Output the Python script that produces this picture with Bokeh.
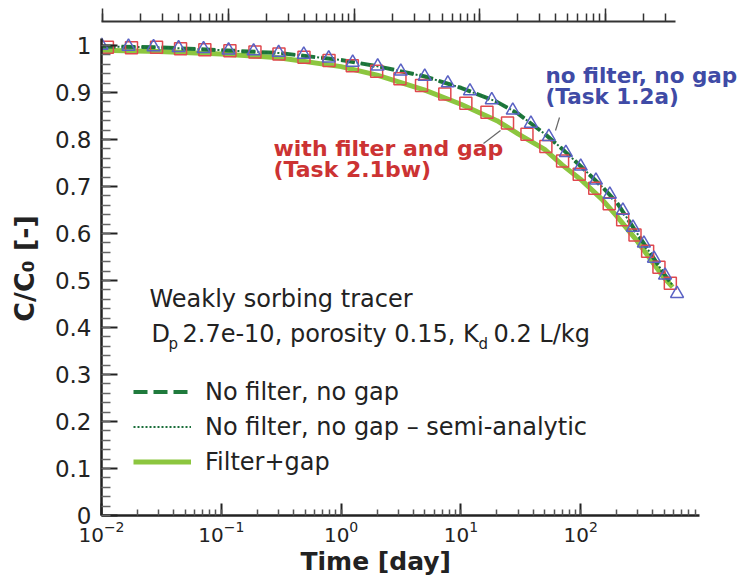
import math
from bokeh.plotting import figure
from bokeh.models import (Range1d, LogAxis, LogTicker, SingleIntervalTicker,
                          CustomJSTickFormatter, Label, Legend, LegendItem, Arrow,
                          LogScale, Title)
from bokeh.embed import file_html
from bokeh.resources import INLINE

# ---------------- data ----------------
# Task 1.2a markers (no filter, no gap) - open triangles
tri_time = [0.0100, 0.0168, 0.0272, 0.0440, 0.0711, 0.115, 0.186, 0.301, 0.488,
            0.788, 1.25, 2.02, 3.15, 4.99, 7.78, 11.9, 18.1, 27.1, 38.4, 54.2,
            75.2, 100, 134, 175, 225, 273, 337, 409, 506, 637]
tri_conc = [1.000, 0.998, 0.997, 0.995, 0.993, 0.990, 0.988, 0.985, 0.981,
            0.973, 0.964, 0.956, 0.945, 0.934, 0.920, 0.903, 0.884, 0.862, 0.834, 0.806,
            0.772, 0.743, 0.713, 0.683, 0.649, 0.613, 0.579, 0.547, 0.511, 0.472]

# Task 2.1bw markers (with filter and gap) - open squares
sq_time = [0.0112, 0.0178, 0.0288, 0.0457, 0.0729, 0.118, 0.191, 0.303, 0.490,
           0.793, 1.24, 1.98, 3.10, 4.69, 7.34, 11.0, 16.5, 24.5, 35.6, 51.2,
           70.6, 97.2, 131, 173, 224, 284, 362, 450, 560]
sq_conc = [0.996, 0.995, 0.996, 0.993, 0.991, 0.989, 0.986, 0.982, 0.975,
           0.968, 0.957, 0.945, 0.929, 0.915, 0.897, 0.877, 0.858, 0.835, 0.811, 0.785,
           0.754, 0.726, 0.696, 0.663, 0.629, 0.597, 0.562, 0.528, 0.494]

# Curves
line_time = [0.01, 0.03, 0.1, 0.3, 1, 2, 5, 10, 20, 30, 50, 70, 100, 150, 200,
             300, 400, 500, 585]
nofilter_conc = [0.998, 0.996, 0.990, 0.984, 0.969, 0.956, 0.934, 0.910, 0.880,
                 0.855, 0.812, 0.780, 0.743, 0.700, 0.666, 0.598, 0.550, 0.513, 0.490]
semi_conc = [0.998, 0.996, 0.990, 0.984, 0.969, 0.956, 0.934, 0.910, 0.880,
             0.855, 0.812, 0.780, 0.743, 0.700, 0.666, 0.598, 0.550, 0.513, 0.490]
filter_conc = [0.990, 0.987, 0.982, 0.974, 0.955, 0.937, 0.905, 0.875, 0.840,
               0.812, 0.779, 0.746, 0.715, 0.673, 0.637, 0.582, 0.538, 0.505, 0.486]

legend_labels = ["No filter, no gap", "No filter, no gap \u2013 semi-analytic", "Filter+gap"]
x_title = "Time [day]"
y_title = "C/C\u2080 [-]"

# ---------------- styles ----------------
FONT = "DejaVu Sans"
DARK_GREEN = "#1f7a3c"
LIGHT_GREEN = "#8cc63f"
BLUE = "#5a62c4"
RED = "#e0484e"
AXIS = "#222222"

# frame: x from 101 px to 746 px, 119.8 px per decade
x_end = 10 ** (-2 + 645 / 119.8)
p = figure(width=746, height=577, x_axis_type="log",
           x_range=Range1d(0.01, x_end), y_range=Range1d(0, 1.051),
           output_backend="svg", toolbar_location=None,
           min_border_left=101, min_border_right=0,
           min_border_top=21, min_border_bottom=62)
p.outline_line_color = None
p.xgrid.visible = False
p.ygrid.visible = False
p.background_fill_color = "white"
p.border_fill_color = "white"

# bottom axis
xa = p.xaxis[0]
xa.ticker = LogTicker(num_minor_ticks=10, desired_num_ticks=6)
xa.bounds = (0.01, 980)
xa.axis_line_width = 2.5
xa.axis_line_color = AXIS
xa.major_tick_in = 12
xa.major_tick_out = 0
xa.minor_tick_in = 6
xa.minor_tick_out = 0
xa.major_tick_line_width = 2
xa.minor_tick_line_width = 1.5
xa.major_tick_line_color = AXIS
xa.minor_tick_line_color = "#555555"
xa.major_label_text_font = FONT
xa.major_label_text_font_size = "20px"
xa.major_label_text_color = AXIS
xa.major_label_standoff = 5

# left axis
ya = p.yaxis[0]
ya.ticker = SingleIntervalTicker(interval=0.1, num_minor_ticks=5)
ya.formatter = CustomJSTickFormatter(code="return (Math.round(tick*10)/10).toString();")
ya.bounds = (0, 1.015)
ya.axis_line_width = 2.5
ya.axis_line_color = AXIS
ya.major_tick_in = 16
ya.major_tick_out = 0
ya.minor_tick_in = 9
ya.minor_tick_out = 0
ya.major_tick_line_width = 2
ya.minor_tick_line_width = 1.5
ya.major_tick_line_color = AXIS
ya.minor_tick_line_color = "#666666"
ya.major_label_text_font = FONT
ya.major_label_text_font_size = "23px"
ya.major_label_text_color = AXIS
ya.major_label_standoff = 10
ya.axis_label = y_title
ya.axis_label_text_font = FONT
ya.axis_label_text_font_size = "27px"
ya.axis_label_text_font_style = "bold"
ya.axis_label_text_color = AXIS
ya.axis_label_standoff = 12

# top decorative log axis (different spacing, as in the original)
top_lo = 10 ** -2.0103
top_hi = 10 ** (-2.0103 + 645 / 125.7)
p.extra_x_ranges = {"top": Range1d(top_lo, top_hi)}
p.extra_x_scales = {"top": LogScale()}
ta = LogAxis(x_range_name="top", ticker=LogTicker(num_minor_ticks=10, desired_num_ticks=6),
             formatter=CustomJSTickFormatter(code="return '';"),
             bounds=(top_lo, 10 ** 2.556))
ta.axis_line_width = 2
ta.axis_line_color = "#333333"
ta.major_tick_out = 13
ta.major_tick_in = 0
ta.minor_tick_out = 8
ta.minor_tick_in = 0
ta.major_tick_line_width = 1.5
ta.minor_tick_line_width = 1.5
ta.major_tick_line_color = "#333333"
ta.minor_tick_line_color = "#333333"
ta.major_label_text_font_size = "0px"
ta.major_label_standoff = 0
p.add_layout(ta, "above")

# x title below the axis
p.add_layout(Title(text=x_title, align="left", offset=199, standoff=0,
                   text_font=FONT, text_font_size="25px", text_font_style="bold",
                   text_color=AXIS), "below")

# curves
r_fil = p.line(line_time, filter_conc, line_color=LIGHT_GREEN, line_width=5)
r_nof = p.line(line_time, nofilter_conc, line_color=DARK_GREEN, line_width=4,
               line_dash="14 6")
r_semi = p.line(line_time, semi_conc, line_color="#1a6e3a", line_width=2,
                line_dash="2 2")

# markers
p.scatter(sq_time, sq_conc, marker="square", size=12, fill_color=None,
          line_color=RED, line_width=1.5)
p.scatter(tri_time, tri_conc, marker="triangle", size=13, fill_color=None,
          line_color=BLUE, line_width=1.5)

# legend
legend = Legend(items=[LegendItem(label=legend_labels[0], renderers=[r_nof]),
                       LegendItem(label=legend_labels[1], renderers=[r_semi]),
                       LegendItem(label=legend_labels[2], renderers=[r_fil])],
                location=(32, 36), orientation="vertical",
                padding=0, margin=0, spacing=0,
                glyph_width=58, glyph_height=35, label_height=35,
                label_standoff=14,
                label_text_font=FONT, label_text_font_size="24px",
                label_text_color=AXIS,
                border_line_alpha=0, background_fill_alpha=0)
p.add_layout(legend)

def lab(x, y, text, size, color=AXIS, style="normal", **kw):
    p.add_layout(Label(x=x, y=y, x_units="screen", y_units="screen", text=text,
                       text_font=FONT, text_font_size=size, text_color=color,
                       text_font_style=style, **kw))

# description text
lab(48, 203, "Weakly sorbing tracer", "24px")
lab(50, 168, "D", "24px")
lab(67, 163, "p", "15px")
lab(81, 168, "2.7e-10, porosity 0.15, K", "24px")
lab(377, 163, "d", "15px")
lab(392, 168, "0.2 L/kg", "24px")

# annotations
BLUE_T = "#3f4ba6"
RED_T = "#cc3333"
lab(444, 427.7, "no filter, no gap", "21.5px", BLUE_T, "bold")
lab(444, 407, "(Task 1.2a)", "21.5px", BLUE_T, "bold")
lab(172, 355, "with filter and gap", "22px", RED_T, "bold")
lab(172, 334, "(Task 2.1bw)", "22px", RED_T, "bold")

p.add_layout(Arrow(x_start=458, y_start=398, x_end=454, y_end=385,
                   start_units="screen", end_units="screen", end=None,
                   line_color="#666666", line_width=1.2))
p.add_layout(Arrow(x_start=382, y_start=372, x_end=399, y_end=385,
                   start_units="screen", end_units="screen", end=None,
                   line_color="#666666", line_width=1.2))

open("out.html", "w").write(file_html(p, INLINE))
